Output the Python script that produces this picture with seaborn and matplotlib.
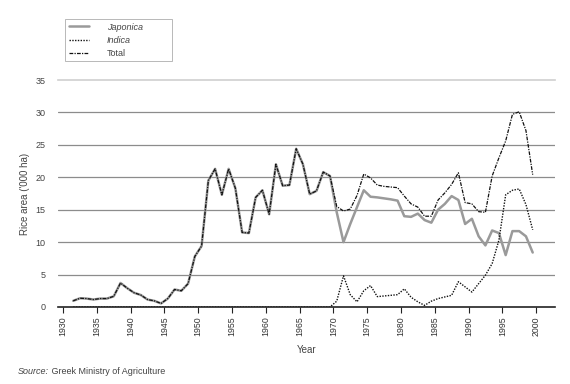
import numpy as np
import pandas as pd
import matplotlib
matplotlib.use("Agg")
import matplotlib.pyplot as plt
import seaborn as sns

# Rice area in Greece, '000 ha
years = list(range(1931, 2000))

japonica = [0.95, 1.35, 1.3, 1.15, 1.3, 1.3, 1.65, 3.7, 2.9, 2.2,
            1.85, 1.15, 0.95, 0.55, 1.3, 2.7, 2.5, 3.6, 7.8, 9.4,
            19.5, 21.3, 17.3, 21.3, 18.3, 11.5, 11.4, 16.9, 18.0, 14.3,
            22.0, 18.7, 18.8, 24.4, 22.0, 17.4, 17.9, 20.8, 20.2,
            14.6, 10.0, 12.8, 15.4, 18.0, 17.0, 16.9, 16.75, 16.6, 16.4,
            14.0, 13.9, 14.4, 13.4, 13.0, 15.0, 15.9, 17.1, 16.5, 12.8,
            13.6, 10.9, 9.5, 11.8, 11.4, 8.0, 11.7, 11.7, 10.9, 8.4]

indica = [0.0] * 39 + [
            0.9, 4.8, 1.9, 0.8, 2.5, 3.3, 1.6, 1.7, 1.8, 1.9,
            2.8, 1.5, 0.8, 0.25, 0.9, 1.3, 1.55, 1.8, 3.9, 3.1,
            2.3, 3.6, 4.9, 6.7, 10.3, 17.3, 18.0, 18.2, 15.8, 11.9]

total = japonica[:39] + [
            15.5, 14.8, 15.1, 17.2, 20.5, 19.9, 18.8, 18.6, 18.5, 18.4,
            17.1, 15.9, 15.4, 14.0, 14.0, 16.5, 17.6, 18.9, 20.7, 16.1,
            15.9, 14.7, 14.6, 20.2, 23.0, 25.6, 29.7, 30.1, 27.2, 20.4]

df = pd.DataFrame({"year": years, "Japonica": japonica,
                   "Indica": indica, "Total": total})
# values are plotted at mid-year
df["x"] = df["year"] + 0.5

sns.set_style("white")
plt.rcParams["font.family"] = ["Liberation Sans", "DejaVu Sans"]

fig = plt.figure(figsize=(5.7, 3.84), dpi=100)
ax = fig.add_axes([58 / 570, 1 - 307 / 384, (555 - 58) / 570, (307 - 80) / 384])

sns.lineplot(data=df, x="x", y="Japonica", ax=ax, color="#9a9a9a",
             linewidth=1.8, label="Japonica")
sns.lineplot(data=df, x="x", y="Indica", ax=ax, color="#111111",
             linewidth=1.0, linestyle=(0, (1, 1)), label="Indica")
sns.lineplot(data=df, x="x", y="Total", ax=ax, color="#111111",
             linewidth=0.9, linestyle=(0, (3, 1, 1, 1)), label="Total")

ax.set_xlim(1929.25, 2002.8)
ax.set_ylim(0, 35)
ax.set_xticks(range(1930, 2001, 5))
ax.set_yticks(range(0, 36, 5))
ax.tick_params(axis="x", labelsize=6.3, labelcolor="#333333", rotation=90,
               direction="out", length=4, width=0.8, color="#222222", pad=3, bottom=True)
ax.tick_params(axis="y", labelsize=6.5, labelcolor="#444444", length=0, pad=9)

ax.yaxis.grid(True, color="#8c8c8c", linewidth=0.9)
ax.get_ygridlines()[-1].set_visible(False)
ax.get_ygridlines()[0].set_visible(False)
ax.set_axisbelow(True)

for s in ["left", "right"]:
    ax.spines[s].set_visible(False)
ax.spines["top"].set_color("#cfcfcf")
ax.spines["top"].set_linewidth(1.2)
ax.spines["bottom"].set_color("#222222")
ax.spines["bottom"].set_linewidth(1.2)

ax.set_xlabel("Year", fontsize=7, color="#444444", labelpad=6)
ax.set_ylabel("Rice area ('000 ha)", fontsize=7, color="#444444", labelpad=4)

handles, labels = ax.get_legend_handles_labels()
ax.get_legend().remove()
leg = fig.legend(handles, labels, loc="upper left", mode="expand",
                 bbox_to_anchor=(65 / 570, 1 - 59 / 384, 107 / 570, 40 / 384),
                 fontsize=6.5, frameon=True, fancybox=False, handlelength=2.3,
                 borderpad=0.4, labelspacing=0.45, handletextpad=1.9,
                 borderaxespad=0)
leg.get_frame().set_edgecolor("#999999")
leg.get_frame().set_linewidth(0.6)
for t in leg.get_texts():
    t.set_color("#444444")
    if t.get_text() in ("Japonica", "Indica"):
        t.set_fontstyle("italic")

src = fig.text(18 / 570, 1 - 372 / 384, "Source:", fontsize=6.5, style="italic",
               color="#444444", va="center")
plt.annotate(" Greek Ministry of Agriculture", xy=(1, 0.5), xycoords=src,
             va="center", ha="left", fontsize=6.5, color="#444444",
             annotation_clip=False)

fig.savefig("out.png", dpi=100)
